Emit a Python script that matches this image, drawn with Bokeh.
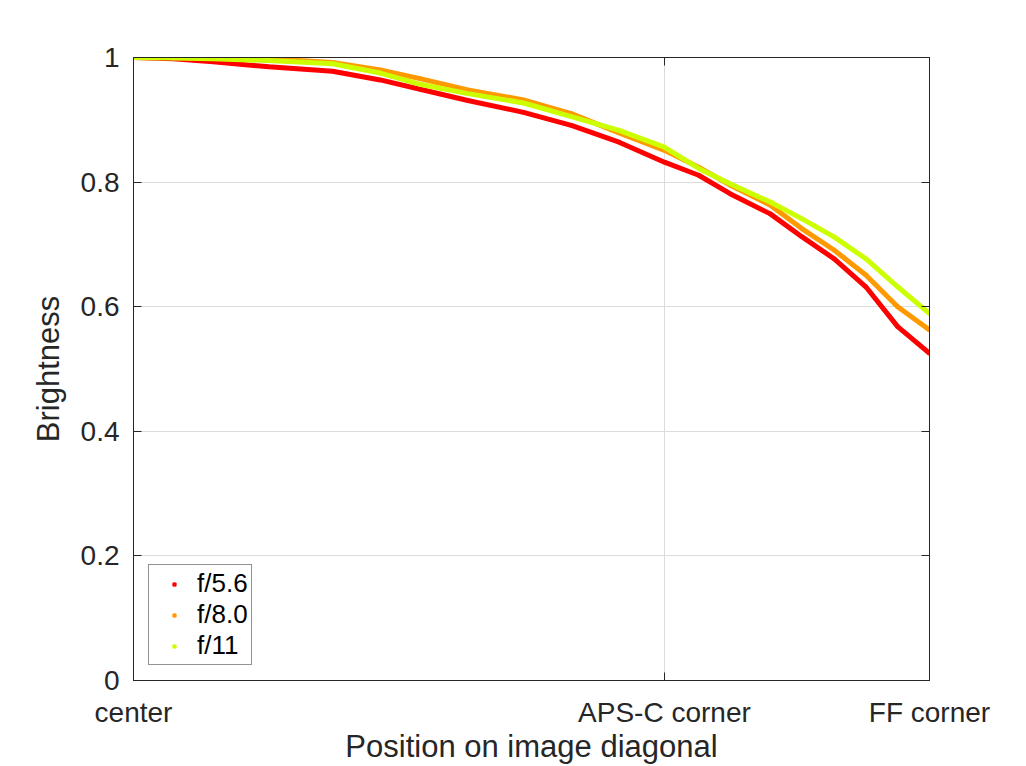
from bokeh.plotting import figure
from bokeh.models import FixedTicker, LinearAxis, Range1d, Legend, LegendItem, ColumnDataSource
from bokeh.embed import file_html
from bokeh.resources import INLINE

# Position along the image diagonal (0 = center, 0.667 = APS-C corner, 1 = FF corner)
pos = [0, 0.05, 0.10, 0.17, 0.25, 0.31, 0.36, 0.42, 0.49, 0.55, 0.61, 0.667,
       0.71, 0.75, 0.80, 0.84, 0.88, 0.92, 0.96, 1.0]
f56 = [1.0, 0.998, 0.993, 0.985, 0.978, 0.964, 0.949, 0.931, 0.912, 0.891, 0.864, 0.832,
       0.811, 0.781, 0.749, 0.712, 0.677, 0.632, 0.568, 0.525]
f80 = [1.0, 1.0, 0.999, 0.998, 0.992, 0.980, 0.966, 0.948, 0.932, 0.910, 0.879, 0.851,
       0.824, 0.795, 0.763, 0.725, 0.691, 0.651, 0.600, 0.5625]
f11 = [1.0, 0.999, 0.998, 0.995, 0.990, 0.975, 0.957, 0.942, 0.927, 0.905, 0.883, 0.856,
       0.822, 0.797, 0.768, 0.741, 0.712, 0.677, 0.632, 0.589]
series_names = ["f/5.6", "f/8.0", "f/11"]
series_colors = ["#ff0000", "#ff9900", "#ccff00"]

x_ticks = [0, 0.667, 1]
x_tick_labels = ["center", "APS-C corner", "FF corner"]
y_ticks = [0, 0.2, 0.4, 0.6, 0.8, 1]
y_tick_labels = ["0", "0.2", "0.4", "0.6", "0.8", "1"]

FONT = "Liberation Sans"
TXT = "#262626"

p = figure(width=1026, height=766, output_backend="svg", toolbar_location=None,
           x_range=Range1d(0, 1), y_range=Range1d(0, 1),
           min_border_left=133, min_border_right=97, min_border_top=57, min_border_bottom=85)
p.background_fill_color = "white"
p.border_fill_color = "white"
p.outline_line_color = TXT
p.outline_line_width = 1

items = []
for name, color, vals in zip(series_names, series_colors, [f56, f80, f11]):
    src = ColumnDataSource(dict(x=pos, y=vals))
    p.line("x", "y", source=src, line_color=color, line_width=5)
    r = p.scatter("x", "y", source=src, marker="square", size=3, color=color)
    items.append(LegendItem(label=name, renderers=[r]))

# axes
xa = p.xaxis[0]
xa.ticker = FixedTicker(ticks=x_ticks)
xa.major_label_overrides = {t: l for t, l in zip(x_ticks, x_tick_labels)}
xa.axis_label = "Position on image diagonal"
ya = p.yaxis[0]
ya.ticker = FixedTicker(ticks=y_ticks)
ya.major_label_overrides = {t: l for t, l in zip(y_ticks, y_tick_labels)}
ya.axis_label = "Brightness"
for ax in (xa, ya):
    ax.major_tick_in = 8
    ax.major_tick_out = 0
    ax.minor_tick_line_color = None
    ax.axis_line_color = TXT
    ax.major_tick_line_color = TXT
    ax.major_label_text_font = FONT
    ax.major_label_text_font_size = "28px"
    ax.major_label_text_color = TXT
    ax.axis_label_text_font = FONT
    ax.axis_label_text_font_size = "31px"
    ax.axis_label_text_font_style = "normal"
    ax.axis_label_text_color = TXT
xa.major_label_standoff = 16
xa.axis_label_standoff = -2
ya.major_label_standoff = 14
ya.axis_label_standoff = 12

# mirrored axes (ticks only)
ra = LinearAxis(ticker=FixedTicker(ticks=y_ticks), major_tick_in=8, major_tick_out=0,
                minor_tick_line_color=None, major_label_standoff=0,
                major_label_overrides={t: "" for t in y_ticks},
                axis_line_color=TXT, major_tick_line_color=TXT)
p.add_layout(ra, "right")
ta = LinearAxis(ticker=FixedTicker(ticks=x_ticks), major_tick_in=8, major_tick_out=0,
                minor_tick_line_color=None, major_label_standoff=0,
                major_label_overrides={t: "" for t in x_ticks},
                axis_line_color=TXT, major_tick_line_color=TXT)
p.add_layout(ta, "above")

# grid
p.xgrid.ticker = FixedTicker(ticks=x_ticks)
p.ygrid.ticker = FixedTicker(ticks=y_ticks)
for g in (p.xgrid[0], p.ygrid[0]):
    g.grid_line_color = "#dcdcdc"
    g.grid_line_width = 1

legend = Legend(items=items, location=(15, 15))
legend.border_line_color = TXT
legend.border_line_width = 1
legend.background_fill_color = "white"
legend.background_fill_alpha = 1
legend.label_text_font = FONT
legend.label_text_font_size = "26px"
legend.label_text_color = "black"
legend.glyph_width = 44
legend.glyph_height = 8
legend.label_height = 30
legend.label_standoff = 1
legend.padding = 3
legend.spacing = 0
legend.margin = 0
p.add_layout(legend, "center")

open("out.html", "w").write(file_html(p, INLINE))
